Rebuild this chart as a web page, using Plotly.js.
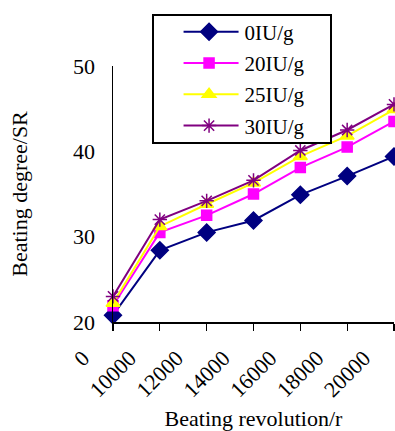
<!DOCTYPE html>
<html>
<head>
<meta charset="utf-8">
<script src="https://cdn.plot.ly/plotly-3.0.1.min.js"></script>
<style>
  html, body { margin: 0; padding: 0; background: #fff; }
  #chart { width: 395px; height: 431px; }
</style>
</head>
<body>
<div id="chart"></div>
<script>
// Beating revolution (r) categories and beating degree (°SR) per enzyme dose
const revolutions = ['0', '10000', '12000', '14000', '16000', '18000', '20000'];
const dose0  = [20.8, 28.4, 30.5, 31.9, 34.9, 37.1, 39.4];
const dose20 = [21.9, 30.5, 32.5, 35.0, 38.1, 40.5, 43.5];
const dose25 = [22.2, 31.2, 33.8, 36.3, 39.4, 41.8, 44.9];
const dose30 = [23.0, 32.0, 34.2, 36.6, 40.1, 42.5, 45.5];
const seriesNames = ['0IU/g', '20IU/g', '25IU/g', '30IU/g'];
const yTicks = [20, 30, 40, 50];

const FONT = '"Liberation Serif", "Times New Roman", serif';
const FS = 22;

function series(name, values, color, symbol, size, group) {
  return {
    type: 'scatter',
    mode: 'lines+markers',
    name: name,
    x: revolutions,
    y: values,
    legendgroup: group,
    cliponaxis: false,
    line: { color: color, width: 2 },
    marker: { color: color, symbol: symbol, size: size,
              line: { color: color, width: 1.5 } }
  };
}

const data = [
  series(seriesNames[0], dose0,  '#000080', 'diamond', 13, 'a'),
  series(seriesNames[1], dose20, '#ff00ff', 'square', 10, 'b'),
  series(seriesNames[2], dose25, '#ffff00', 'triangle-up', 12, 'c'),
  series(seriesNames[3], dose30, '#800080', 'asterisk-open', 12, 'd')
];

const layout = {
  width: 395,
  height: 431,
  margin: { l: 113, r: 1, t: 66, b: 109 },
  paper_bgcolor: '#ffffff',
  plot_bgcolor: '#ffffff',
  font: { family: FONT, size: FS, color: '#000' },
  showlegend: true,
  legend: {
    x: 0.139, y: 1.2186, xanchor: 'left', yanchor: 'top',
    bgcolor: '#ffffff', bordercolor: '#000', borderwidth: 1.5,
    font: { family: FONT, size: 21, color: '#000' },
    tracegroupgap: 1,
    itemwidth: 81
  },
  xaxis: {
    type: 'category',
    range: [0, 6],
    showgrid: false,
    zeroline: false,
    showline: true,
    linecolor: '#000',
    linewidth: 1.5,
    ticks: 'outside',
    ticklen: 7,
    tickwidth: 1.2,
    tickcolor: '#000',
    tickangle: -45,
    ticklabelshift: -30,
    ticklabelstandoff: 6,
    tickfont: { family: FONT, size: FS },
    title: { text: 'Beating revolution/r', font: { family: FONT, size: FS }, standoff: 18 },
    automargin: false
  },
  yaxis: {
    range: [20, 50],
    tickvals: yTicks,
    showgrid: false,
    zeroline: false,
    showline: true,
    linecolor: '#000',
    linewidth: 1.5,
    ticks: '',
    ticklabelstandoff: 12,
    tickfont: { family: FONT, size: FS },
    title: { text: 'Beating degree/SR', font: { family: FONT, size: FS }, standoff: 39 },
    automargin: false
  }
};

// Legend entries: 55px sample line starting 30px in, marker centred on it,
// and a frame sized to the entries.
function styleLegend(gd) {
  const legend = gd.querySelector('.legend');
  if (!legend) return;
  legend.querySelectorAll('.legendlines path').forEach(function (p) {
    p.setAttribute('d', 'M30,0h55');
  });
  legend.querySelectorAll('.legendpoints path.scatterpts').forEach(function (p) {
    p.setAttribute('transform', 'translate(55.5,0)');
  });
  legend.querySelectorAll('rect.bg').forEach(function (r) {
    r.setAttribute('width', 178);
    r.setAttribute('y', 4.75);
    r.setAttribute('height', 128);
  });
}

Plotly.newPlot('chart', data, layout, { staticPlot: true, displayModeBar: false }).then(styleLegend);
</script>
</body>
</html>
